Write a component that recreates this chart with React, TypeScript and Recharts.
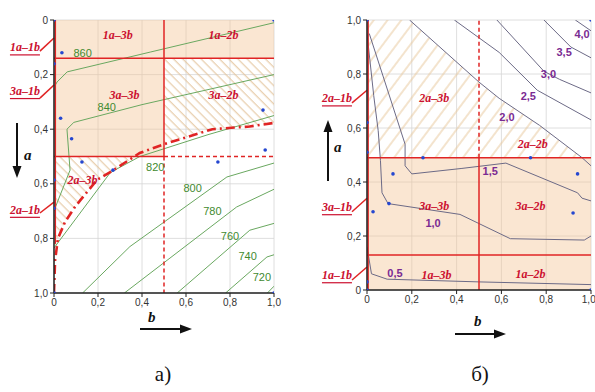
import React from 'react'
import {
  ComposedChart, Line, Area, Scatter, XAxis, YAxis, CartesianGrid,
  ReferenceArea, ReferenceLine, ReferenceDot,
} from 'recharts'

const ticks = [0, 0.2, 0.4, 0.6, 0.8, 1.0]

// ---------- panel а (a axis downwards) ----------
const aSplitTop = 0.14
const aSplitMid = 0.5
const aSplitB = 0.5
const aLeftRedEnd = 0.82

const aContourNames = ['860', '840', '820', '800', '780', '760', '740', '720']
const aContourB = [
  [0.005, 0.014, 0.06, 0.44, 1.0],
  [0, 0.014, 0.073, 0.059, 0.09, 0.4, 1.0],
  [0, 0.255, 0.285, 0.39, 0.7, 1.0],
  [0.13, 0.345, 0.786, 1.0],
  [0.32, 0.83, 1.0],
  [0.56, 0.89, 1.0],
  [0.78, 0.968, 1.0],
  [0.97, 1.0],
]
const aContourA = [
  [0.24, 0.227, 0.19, 0.117, 0.01],
  [0.7, 0.67, 0.55, 0.4, 0.375, 0.31, 0.2],
  [0.835, 0.56, 0.546, 0.5, 0.42, 0.35],
  [1.0, 0.83, 0.575, 0.524],
  [1.0, 0.685, 0.62],
  [1.0, 0.77, 0.745],
  [1.0, 0.868, 0.86],
  [1.0, 0.975],
]
const aContourLabelB = [0.13, 0.24, 0.46, 0.63, 0.72, 0.8, 0.88, 0.945]
const aContourLabelA = [0.12, 0.32, 0.54, 0.615, 0.7, 0.79, 0.865, 0.94]

// dash-dot boundary
const aBoundB = [0.0, 0.005, 0.018, 0.05, 0.095, 0.12, 0.195, 0.27, 0.39, 0.5, 0.72, 0.89, 1.0]
const aBoundA = [1.0, 0.88, 0.8, 0.74, 0.685, 0.66, 0.586, 0.55, 0.487, 0.455, 0.4, 0.39, 0.377]

// hatched zones
const aHatch1B = [0.5, 0.72, 0.89, 1.0]
const aHatch1Hi = [0.455, 0.4, 0.39, 0.377]
const aHatch2B = [0, 0.005, 0.018, 0.05, 0.095, 0.12, 0.195, 0.27, 0.37]
const aHatch2Hi = [1.0, 0.88, 0.8, 0.74, 0.685, 0.66, 0.586, 0.55, 0.5]

const aZoneText = ['1a–3b', '1a–2b', '3a–3b', '3a–2b', '2a–3b']
const aZoneB = [0.29, 0.77, 0.32, 0.77, 0.13]
const aZoneA = [0.055, 0.055, 0.275, 0.275, 0.585]

const aSideText = ['1a–1b', '3a–1b', '2a–1b']
const aSideA = [0.1, 0.26, 0.695]
const aLeadFromA = [0.114, 0.286, 0.707]
const aLeadToA = [0.066, 0.238, 0.667]

const aDotB = [0, 0.036, 0, 0.03, 0.08, 0.127, 0.268, 0, 0, 0.95, 0.96, 0.745, 1.0, 0, 1.0]
const aDotA = [0, 0.12, 0.16, 0.36, 0.435, 0.52, 0.55, 0.586, 0.69, 0.33, 0.476, 0.52, 1.0, 1.0, 0]

// ---------- panel б (a axis upwards) ----------
const bSplitTop = 0.49
const bSplitLow = 0.13
const bSplitB = 0.5

const bContourNames = ['0,5', '1,0', '1,5', '2,0', '2,5', '3,0', '3,5', '4,0']
const bContourB = [
  [0, 0.02, 0.09, 0.5, 1.0],
  [0, 0.03, 0.05, 0.06, 0.067, 0.094, 0.415, 0.64, 0.97, 1.0],
  [0.01, 0.17, 0.17, 0.2, 0.42, 0.62, 0.94, 0.96, 1.0],
  [0.19, 0.5, 0.59, 0.77, 0.96, 1.0],
  [0.39, 0.59, 0.76, 1.0],
  [0.58, 0.79, 0.86, 1.0],
  [0.79, 0.91, 1.0],
  [0.93, 1.0],
]
const bContourA = [
  [0.16, 0.06, 0.04, 0.03, 0.02],
  [0.95, 0.72, 0.59, 0.48, 0.36, 0.32, 0.28, 0.19, 0.185, 0.2],
  [0.95, 0.54, 0.46, 0.43, 0.45, 0.47, 0.36, 0.34, 0.33],
  [1.0, 0.77, 0.71, 0.61, 0.49, 0.46],
  [1.0, 0.88, 0.74, 0.63],
  [1.0, 0.81, 0.78, 0.73],
  [1.0, 0.9, 0.86],
  [1.0, 0.96],
]
const bContourLabelB = [0.125, 0.295, 0.55, 0.625, 0.72, 0.81, 0.88, 0.96]
const bContourLabelA = [0.063, 0.25, 0.44, 0.64, 0.72, 0.8, 0.88, 0.95]

const bHatchB = [0, 0.19, 0.5, 0.59, 0.77, 0.96]
const bHatchHi = [1.0, 1.0, 0.77, 0.71, 0.61, 0.49]

const bZoneText = ['2a–3b', '2a–2b', '3a–3b', '3a–2b', '1a–3b', '1a–2b']
const bZoneB = [0.3, 0.74, 0.3, 0.73, 0.31, 0.73]
const bZoneA = [0.71, 0.54, 0.31, 0.31, 0.056, 0.06]

const bSideText = ['2a–1b', '3a–1b', '1a–1b']
const bSideA = [0.71, 0.307, 0.055]
const bLeadFromA = [0.693, 0.29, 0.037]
const bLeadToA = [0.74, 0.34, 0.085]

const bDotB = [0, 1.0, 0.25, 0.116, 0.098, 0.027, 0.73, 0.94, 0.92, 0, 1.0, 0, 0, 0]
const bDotA = [1.0, 1.0, 0.49, 0.43, 0.32, 0.29, 0.49, 0.43, 0.285, 0, 0, 0.62, 0.51, 0.03]

const RED = '#e02424'
const ZONE_RED = '#cc1130'
const PEACH = '#f4c393'
const fmt = (v: number) => (v === 0 ? '0' : v.toFixed(1).replace('.', ','))
const pts = (bs: number[], as: number[]) => bs.map((b, i) => ({ b, a: as[i] }))
const band = (bs: number[], lo: number, hi: number[]) => bs.map((b, i) => ({ b, r: [lo, hi[i]] }))

const textShape = (value: string, style: any) => (p: any) => (
  <text x={p.cx} y={p.cy} textAnchor="middle" dominantBaseline="central" {...style}>
    {value}
  </text>
)

const zoneStyle = { fill: ZONE_RED, fontFamily: 'Liberation Serif', fontStyle: 'italic', fontWeight: 'bold', fontSize: 12 }
const sideStyle = { ...zoneStyle, textDecoration: 'underline' }
const tickStyle = { fontSize: 10, fill: '#333', fontFamily: 'Liberation Sans' }
const axisStyle = { stroke: '#222', strokeWidth: 1.5 }

function redSeg(x1: number, y1: number, x2: number, y2: number, dash?: string, key?: string) {
  return (
    <ReferenceLine
      key={key}
      segment={[{ x: x1, y: y1 }, { x: x2, y: y2 }]}
      stroke={RED}
      strokeWidth={1.5}
      strokeDasharray={dash}
      ifOverflow="visible"
    />
  )
}

function axes(reversed: boolean) {
  return [
    <XAxis key="x" dataKey="b" type="number" domain={[0, 1]} ticks={ticks} allowDataOverflow tickFormatter={fmt}
      height={20} tickSize={4} axisLine={axisStyle} tickLine={{ stroke: '#222' }} tick={tickStyle} />,
    <YAxis key="y" dataKey="a" type="number" domain={[0, 1]} ticks={ticks} allowDataOverflow tickFormatter={fmt}
      reversed={reversed} width={30} tickSize={4} axisLine={axisStyle} tickLine={{ stroke: '#222' }} tick={tickStyle} />,
  ]
}

function PanelA() {
  return (
    <ComposedChart width={290} height={320} margin={{ top: 20, right: 16, bottom: 7, left: 24 }} style={{ overflow: 'visible' }}>
      <defs>
        <pattern id="hatchA" patternUnits="userSpaceOnUse" width="6.5" height="6.5" patternTransform="rotate(-45)">
          <line x1="3" y1="0" x2="3" y2="6.5" stroke="#e2c197" strokeWidth="1" />
        </pattern>
      </defs>
      <CartesianGrid stroke="#d6d6d6" strokeWidth={0.8} />
      {axes(true)}
      <ReferenceArea x1={0} x2={1} y1={0} y2={aSplitTop} fill={PEACH} fillOpacity={0.42} stroke="none" />
      <ReferenceArea x1={0} x2={aSplitB} y1={aSplitTop} y2={aSplitMid} fill={PEACH} fillOpacity={0.42} stroke="none" />
      <Area data={band(aHatch1B, aSplitTop, aHatch1Hi)} dataKey="r" type="linear" fill="url(#hatchA)" fillOpacity={1} stroke="none" isAnimationActive={false} />
      <Area data={band(aHatch2B, aSplitMid, aHatch2Hi)} dataKey="r" type="linear" fill="url(#hatchA)" fillOpacity={1} stroke="none" isAnimationActive={false} />
      {aContourB.map((bs, i) => (
        <Line key={aContourNames[i]} data={pts(bs, aContourA[i])} dataKey="a" type="linear" stroke="#6aa860"
          strokeWidth={1} dot={false} activeDot={false} isAnimationActive={false} />
      ))}
      {redSeg(0, aSplitTop, 1, aSplitTop)}
      {redSeg(0, aSplitMid, aSplitB, aSplitMid)}
      {redSeg(aSplitB, aSplitMid, 1, aSplitMid, '4 3')}
      {redSeg(aSplitB, 0, aSplitB, aSplitMid)}
      {redSeg(aSplitB, aSplitMid, aSplitB, 1, '4 3')}
      {redSeg(0.006, 0, 0.006, aLeftRedEnd)}
      <Line data={pts(aBoundB, aBoundA)} dataKey="a" type="linear" stroke={RED} strokeWidth={2.6}
        strokeDasharray="9 4 2 4" dot={false} activeDot={false} isAnimationActive={false} />
      <Scatter data={pts(aDotB, aDotA)} dataKey="a" isAnimationActive={false}
        shape={(p: any) => <circle cx={p.cx} cy={p.cy} r={1.8} fill="#2547d0" />} />
      {aZoneText.map((t, i) => (
        <ReferenceDot key={'z' + i} x={aZoneB[i]} y={aZoneA[i]} r={0} shape={textShape(t, zoneStyle)} />
      ))}
      {aContourNames.map((t, i) => (
        <ReferenceDot key={'c' + i} x={aContourLabelB[i]} y={aContourLabelA[i]} r={0}
          shape={textShape(t, { fill: '#3f8a30', fontSize: 11, fontFamily: 'Liberation Sans' })} />
      ))}
      {aSideText.map((t, i) => (
        <ReferenceDot key={'s' + i} x={-0.132} y={aSideA[i]} r={0} ifOverflow="visible" shape={textShape(t, sideStyle)} />
      ))}
      {aSideText.map((t, i) => redSeg(-0.064, aLeadFromA[i], 0, aLeadToA[i], undefined, 'l' + i))}
    </ComposedChart>
  )
}

function PanelB() {
  return (
    <ComposedChart width={295} height={320} margin={{ top: 20, right: 4, bottom: 10, left: 37 }} style={{ overflow: 'visible' }}>
      <defs>
        <pattern id="hatchB" patternUnits="userSpaceOnUse" width="11" height="11" patternTransform="rotate(37)">
          <line x1="5" y1="0" x2="5" y2="11" stroke="#e8c89c" strokeWidth="1" />
        </pattern>
      </defs>
      <CartesianGrid stroke="#d6d6d6" strokeWidth={0.8} />
      {axes(false)}
      <ReferenceArea x1={0} x2={1} y1={0} y2={bSplitTop} fill={PEACH} fillOpacity={0.42} stroke="none" />
      <Area data={band(bHatchB, bSplitTop, bHatchHi)} dataKey="r" type="linear" fill="url(#hatchB)" fillOpacity={1} stroke="none" isAnimationActive={false} />
      {bContourB.map((bs, i) => (
        <Line key={bContourNames[i]} data={pts(bs, bContourA[i])} dataKey="a" type="linear" stroke="#6c6a86"
          strokeWidth={1} dot={false} activeDot={false} isAnimationActive={false} />
      ))}
      {redSeg(0, bSplitTop, 1, bSplitTop)}
      {redSeg(0, bSplitLow, 1, bSplitLow)}
      {redSeg(bSplitB, 0, bSplitB, bSplitTop)}
      {redSeg(bSplitB, bSplitTop, bSplitB, 1, '4 3')}
      {redSeg(0.005, 0, 0.005, 1)}
      <Scatter data={pts(bDotB, bDotA)} dataKey="a" isAnimationActive={false}
        shape={(p: any) => <circle cx={p.cx} cy={p.cy} r={1.8} fill="#2547d0" />} />
      {bZoneText.map((t, i) => (
        <ReferenceDot key={'z' + i} x={bZoneB[i]} y={bZoneA[i]} r={0} shape={textShape(t, zoneStyle)} />
      ))}
      {bContourNames.map((t, i) => (
        <ReferenceDot key={'c' + i} x={bContourLabelB[i]} y={bContourLabelA[i]} r={0}
          shape={textShape(t, { fill: '#7a2a92', fontSize: 11, fontWeight: 'bold', fontFamily: 'Liberation Sans' })} />
      ))}
      {bSideText.map((t, i) => (
        <ReferenceDot key={'s' + i} x={-0.134} y={bSideA[i]} r={0} ifOverflow="visible" shape={textShape(t, sideStyle)} />
      ))}
      {bSideText.map((t, i) => redSeg(-0.067, bLeadFromA[i], 0, bLeadToA[i], undefined, 'l' + i))}
    </ComposedChart>
  )
}

export default function App() {
  const lbl = { fontFamily: 'Liberation Serif', fontStyle: 'italic', fontWeight: 'bold', fontSize: 15, fill: '#111' } as const
  return (
    <div style={{ position: 'absolute', left: 0, top: 0, width: 595, height: 392, background: '#fff', overflow: 'hidden' }}>
      <div style={{ position: 'absolute', left: 0, top: 0 }}>
        <PanelA />
      </div>
      <div style={{ position: 'absolute', left: 300, top: 0 }}>
        <PanelB />
      </div>
      <svg width={595} height={392} style={{ position: 'absolute', left: 0, top: 0, pointerEvents: 'none' }}>
        {/* axis direction arrows */}
        <line x1={17} y1={123} x2={17} y2={168} stroke="#111" strokeWidth={2} />
        <polygon points="12.5,166 21.5,166 17,178" fill="#111" />
        <text x={24} y={160} {...lbl}>a</text>
        <line x1={328} y1={181} x2={328} y2={130} stroke="#111" strokeWidth={2} />
        <polygon points="323.5,132 332.5,132 328,120" fill="#111" />
        <text x={334} y={152} {...lbl}>a</text>
        <line x1={140} y1={329} x2={182} y2={329} stroke="#111" strokeWidth={2} />
        <polygon points="180,324.5 180,333.5 192,329" fill="#111" />
        <text x={148} y={322} {...lbl}>b</text>
        <line x1={455} y1={334} x2={496} y2={334} stroke="#111" strokeWidth={2} />
        <polygon points="494,329.5 494,338.5 506,334" fill="#111" />
        <text x={474} y={326} {...lbl}>b</text>
        <text x={163} y={381} textAnchor="middle" fontFamily="Liberation Serif" fontSize={21} fill="#111">а)</text>
        <text x={480} y={381} textAnchor="middle" fontFamily="Liberation Serif" fontSize={21} fill="#111">б)</text>
      </svg>
    </div>
  )
}
